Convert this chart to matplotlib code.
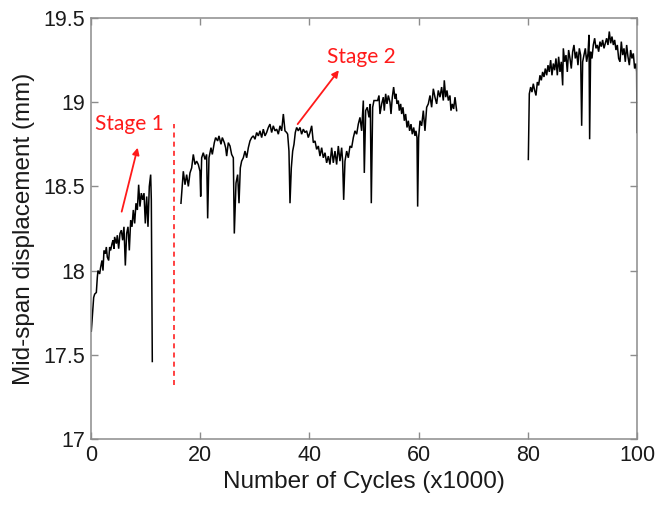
import numpy as np
import matplotlib
matplotlib.use("Agg")
import matplotlib.pyplot as plt

# Mid-span displacement records (cycles in thousands, displacement in mm)
stage1_cycles = [0.06, 0.49, 0.67, 0.98, 1.16, 1.28, 1.59, 1.77, 2.01, 2.20, 2.38, 2.63, 2.81, 2.99,
                 3.24, 3.42, 3.60, 3.85, 4.03, 4.21, 4.33, 4.64, 4.82, 5.07, 5.31, 5.56, 5.80, 6.04,
                 6.29, 6.53, 6.78, 7.02, 7.27, 7.51, 7.75, 8.00, 8.24, 8.49, 8.73, 8.97, 9.22, 9.46,
                 9.71, 9.95, 10.20, 10.44, 10.68, 10.93, 11.05, 11.23]
stage1_disp = [17.64, 17.84, 17.86, 17.87, 17.96, 18.00, 17.98, 18.02, 18.06, 18.00, 18.12, 18.10,
               18.14, 18.08, 18.06, 18.14, 18.12, 18.16, 18.18, 18.13, 18.20, 18.16, 18.21, 18.13,
               18.22, 18.24, 18.18, 18.26, 18.03, 18.22, 18.26, 18.12, 18.30, 18.26, 18.36, 18.28,
               18.40, 18.36, 18.51, 18.38, 18.46, 18.42, 18.46, 18.28, 18.44, 18.26, 18.50, 18.57,
               18.42, 17.46]

stage2_cycles = [16.48, 16.91, 17.22, 17.52, 17.83, 18.13, 18.44, 18.74, 19.05, 19.35, 19.66, 19.96,
                 20.09, 20.27, 20.57, 20.88, 21.18, 21.37, 21.61, 21.98, 22.22, 22.59, 22.83, 23.20,
                 23.44, 23.81, 24.05, 24.42, 24.66, 24.85, 25.15, 25.46, 25.76, 26.07, 26.25, 26.56,
                 26.86, 27.11, 27.35, 27.59, 27.90,
                 28.21, 28.51, 28.82, 29.12, 29.43, 29.73, 30.04, 30.34, 30.65, 30.95, 31.26, 31.56,
                 31.87, 32.17, 32.48, 32.78, 33.09, 33.39, 33.70, 34.01, 34.31, 34.62, 34.92, 35.23,
                 35.53, 35.84, 36.02, 36.26, 36.45, 36.69, 36.94, 37.18, 37.42, 37.67, 37.97, 38.28,
                 38.58, 38.89, 39.19, 39.50, 39.80,
                 40.11, 40.42, 40.72, 41.03, 41.33, 41.64, 41.94, 42.25, 42.55, 42.86, 43.16, 43.47,
                 43.77, 44.08, 44.38, 44.69, 44.99, 45.30, 45.60, 45.91, 46.09, 46.28, 46.52, 46.83,
                 47.13, 47.44, 47.74, 48.05, 48.35, 48.66, 48.96, 49.27, 49.57, 49.88, 50.06, 50.31,
                 50.61, 50.92, 51.16, 51.34, 51.59, 51.83,
                 52.50, 52.75, 52.93, 53.24, 53.54, 53.72, 53.97, 54.21, 54.46, 54.76, 54.95, 55.19,
                 55.43, 55.68, 55.86, 56.04, 56.29, 56.47, 56.72, 56.90, 57.14, 57.39, 57.63, 57.88,
                 58.12, 58.36, 58.61, 58.85, 59.10, 59.34, 59.52, 59.71, 59.83, 60.01, 60.26, 60.56,
                 60.87, 61.17, 61.48, 61.78, 62.09, 62.39, 62.70, 63.00, 63.31, 63.61, 63.92, 64.22,
                 64.53, 64.71, 64.96, 65.20, 65.45, 65.75, 65.93, 66.18, 66.42, 66.67, 66.97]
stage2_disp = [18.40, 18.59, 18.51, 18.57, 18.50, 18.58, 18.61, 18.69, 18.63, 18.65, 18.63, 18.59,
               18.44, 18.67, 18.70, 18.66, 18.69, 18.31, 18.67, 18.73, 18.69, 18.76, 18.79, 18.77,
               18.80, 18.75, 18.79, 18.76, 18.73, 18.68, 18.76, 18.74, 18.69, 18.67, 18.22, 18.52,
               18.57, 18.40, 18.61, 18.65, 18.67,
               18.71, 18.67, 18.73, 18.77, 18.79, 18.80, 18.78, 18.82, 18.80, 18.83, 18.79, 18.84,
               18.80, 18.82, 18.85, 18.87, 18.82, 18.86, 18.83, 18.84, 18.81, 18.86, 18.83, 18.93,
               18.83, 18.82, 18.81, 18.71, 18.40, 18.61, 18.71, 18.75, 18.82, 18.85, 18.83, 18.85,
               18.81, 18.84, 18.82, 18.83, 18.79,
               18.82, 18.86, 18.76, 18.77, 18.72, 18.74, 18.68, 18.73, 18.67, 18.70, 18.64, 18.68,
               18.63, 18.73, 18.64, 18.71, 18.63, 18.74, 18.65, 18.73, 18.65, 18.42, 18.65, 18.71,
               18.67, 18.74, 18.73, 18.79, 18.83, 18.81, 18.87, 18.91, 18.83, 19.01, 18.58, 18.95,
               18.97, 18.91, 18.99, 18.40, 18.97, 19.01,
               19.01, 19.04, 18.93, 18.99, 19.03, 18.95, 19.05, 18.99, 19.04, 19.00, 18.93, 19.03,
               19.09, 19.02, 19.05, 18.99, 19.01, 18.95, 18.99, 18.93, 18.97, 18.89, 18.93, 18.85,
               18.89, 18.83, 18.87, 18.81, 18.85, 18.80, 18.83, 18.79, 18.38, 18.79, 18.89, 18.86,
               18.95, 18.83, 18.97, 18.99, 19.04, 18.97, 19.08, 19.03, 18.99, 19.07, 19.03, 19.09,
               19.01, 19.13, 19.03, 19.07, 19.01, 19.04, 18.95, 18.99, 18.96, 19.03, 18.95]

stage3_cycles = [80.10, 80.28, 80.53, 80.77, 81.01, 81.26, 81.50, 81.75, 81.99, 82.23, 82.48, 82.72,
                 82.97, 83.21, 83.46, 83.70, 83.94, 84.19, 84.43, 84.68, 84.92, 85.16, 85.41, 85.65,
                 85.90, 86.14, 86.39, 86.51, 86.75, 87.00, 87.24, 87.48, 87.73, 87.97, 88.22, 88.46,
                 88.71, 88.95, 89.19, 89.44, 89.68, 89.87, 90.05, 90.29, 90.54, 90.78, 91.03, 91.21,
                 91.33, 91.51, 91.76, 92.00, 92.25, 92.49, 92.73, 92.98, 93.22, 93.47, 93.71, 93.96,
                 94.20, 94.44, 94.69, 94.93, 95.18, 95.42, 95.67, 95.91, 96.15, 96.40, 96.64, 96.89,
                 97.13, 97.38, 97.62, 97.86, 98.11, 98.35, 98.60, 98.84, 99.08, 99.33, 99.57, 99.82,
                 99.94, 100.0]
stage3_disp = [18.66, 19.05, 19.09, 19.06, 19.11, 19.07, 19.04, 19.12, 19.10, 19.16, 19.13, 19.18,
               19.15, 19.20, 19.16, 19.22, 19.18, 19.25, 19.16, 19.23, 19.19, 19.26, 19.16, 19.27,
               19.18, 19.24, 19.10, 19.32, 19.24, 19.28, 19.18, 19.31, 19.26, 19.20, 19.30, 19.34,
               19.26, 19.30, 19.22, 19.32, 19.28, 18.86, 19.24, 19.28, 19.32, 19.24, 19.29, 19.40,
               18.78, 19.30, 19.26, 19.34, 19.38, 19.32, 19.34, 19.30, 19.36, 19.33, 19.37, 19.32,
               19.35, 19.38, 19.34, 19.42, 19.35, 19.39, 19.34, 19.37, 19.31, 19.34, 19.26, 19.24,
               19.36, 19.28, 19.32, 19.24, 19.34, 19.27, 19.22, 19.31, 19.26, 19.29, 19.20, 19.23,
               19.18, 18.82]

# Stage boundary and annotations
boundary_cycle = 15.25
boundary_range = [17.32, 18.87]
stage_labels = ["Stage 1", "Stage 2"]
label_pos = [(7.0, 18.87), (49.6, 19.27)]
arrow_tail = [(5.62, 18.35), (37.85, 18.87)]
arrow_head = [(8.55, 18.73), (45.4, 19.19)]

x_ticks = [0, 20, 40, 60, 80, 100]
y_ticks = [17, 17.5, 18, 18.5, 19, 19.5]
y_ticklabels = ["17", "17.5", "18", "18.5", "19", "19.5"]

plt.rcParams["font.family"] = ["Liberation Sans", "DejaVu Sans"]

fig = plt.figure(figsize=(6.56, 5.11), dpi=100)
ax = fig.add_axes([0.1387, 0.141, 0.8323, 0.8237])

for xs, ys in [(stage1_cycles, stage1_disp), (stage2_cycles, stage2_disp), (stage3_cycles, stage3_disp)]:
    ax.plot(xs, ys, color="black", lw=1.1, solid_joinstyle="miter")

ax.plot([boundary_cycle, boundary_cycle], boundary_range, color="#ff2020", lw=1.2,
        ls=(0, (3, 2.5)))

red = "#ff1a1a"
for text, pos, tail, head in zip(stage_labels, label_pos, arrow_tail, arrow_head):
    ax.text(pos[0], pos[1], text, color=red, fontsize=15, ha="center", va="center",
            family=["Lato", "DejaVu Sans"])
    ax.annotate("", xy=head, xytext=tail,
                arrowprops=dict(arrowstyle="-|>", color=red, lw=1.3, mutation_scale=10,
                                shrinkA=0, shrinkB=0))

ax.set_xlim(0, 100)
ax.set_ylim(17, 19.5)
ax.set_xticks(x_ticks)
ax.set_yticks(y_ticks)
ax.set_yticklabels(y_ticklabels)

axis_gray = "#8c8c8c"
for side in ax.spines.values():
    side.set_color(axis_gray)
    side.set_linewidth(1.1)
ax.tick_params(direction="in", length=5, width=1.0, color=axis_gray,
               top=True, right=True, labelsize=15.5, labelcolor="#1a1a1a", pad=4)

ax.set_xlabel("Number of Cycles (x1000)", fontsize=17.5, color="#1a1a1a", labelpad=4)
ax.set_ylabel("Mid-span displacement (mm)", fontsize=17.5, color="#1a1a1a", labelpad=6)

fig.savefig("out.png", dpi=100)
